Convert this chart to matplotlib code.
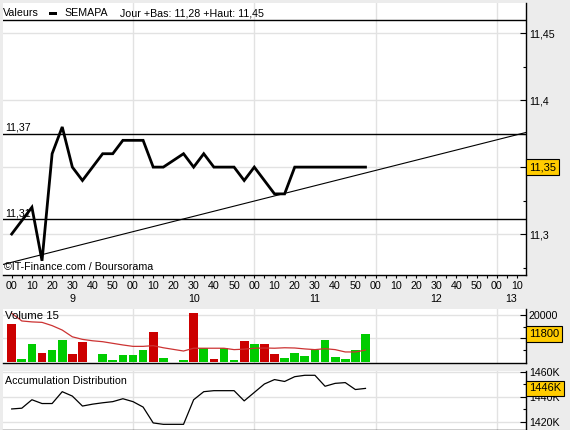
import matplotlib
matplotlib.use("Agg")
import matplotlib.pyplot as plt
from matplotlib.patches import Rectangle
from matplotlib.ticker import FixedLocator, FuncFormatter

plt.rcParams['font.family'] = ['Liberation Sans', 'DejaVu Sans']

# ---------------- data ----------------
times = ["09:00", "09:05", "09:10", "09:15", "09:20", "09:25", "09:30", "09:35", "09:40",
         "09:45", "09:50", "09:55", "10:00", "10:05", "10:10", "10:15", "10:20", "10:25",
         "10:30", "10:35", "10:40", "10:45", "10:50", "10:55", "11:00", "11:05", "11:10",
         "11:15", "11:20", "11:25", "11:30", "11:35", "11:40", "11:45", "11:50", "11:55"]
prices = [11.30, 11.31, 11.32, 11.28, 11.36, 11.38, 11.35, 11.34, 11.35,
          11.36, 11.36, 11.37, 11.37, 11.37, 11.35, 11.35, 11.355, 11.36,
          11.35, 11.36, 11.35, 11.35, 11.35, 11.34, 11.35, 11.34, 11.33,
          11.33, 11.35, 11.35, 11.35, 11.35, 11.35, 11.35, 11.35, 11.35]
volumes = [16100, 1100, 7500, 3600, 4900, 9400, 3200, 8500, 0,
           3200, 600, 2800, 2800, 4900, 12800, 1600, 0, 600,
           20800, 5800, 1100, 5800, 600, 8800, 7500, 7500, 3200,
           1500, 3600, 2400, 4900, 9400, 1900, 1100, 4900, 11800]
volume_up = [False, True, True, False, True, True, False, False, True,
             True, True, True, True, True, False, True, True, True,
             False, True, False, True, True, False, True, False, False,
             True, True, True, True, True, True, True, True, True]
volume_ma = [20700, 17400, 17000, 16800, 15400, 13500, 10600, 9500, 8900,
             8500, 7800, 7100, 6500, 6500, 6800, 5900, 5200, 4500,
             5700, 5700, 5700, 5700, 5100, 5300, 5700, 5800, 5700,
             5900, 5800, 5400, 5100, 5500, 5100, 4100, 4100, 4900]
acc_dist_k = [1430.3, 1430.9, 1437.6, 1434.6, 1434.6, 1444.0, 1440.5, 1432.6, 1434.1,
              1435.2, 1436.1, 1438.4, 1436.1, 1431.8, 1419.2, 1418.1, 1418.1, 1418.1,
              1437.6, 1444.0, 1444.8, 1444.8, 1444.8, 1436.7, 1443.4, 1450.1, 1453.6,
              1452.1, 1455.9, 1457.0, 1457.0, 1448.3, 1450.6, 1451.2, 1445.7, 1446.6]

levels = [11.46, 11.375, 11.311]
level_labels = ["", "11,37", "11,31"]
trend_times = ["09:00", "13:00"]
trend_values = [11.2789, 11.3704]

price_ticks = [11.30, 11.35, 11.40, 11.45]
price_minor = [11.275, 11.325, 11.375, 11.425]
volume_ticks = [10000, 20000]
volume_minor = [5000, 15000]
ad_ticks = [1420, 1440, 1460]
ad_minor = [1430, 1450]
hour_labels = ["9", "10", "11", "12", "13"]
hour_starts = ["09:00", "10:00", "11:00", "12:00", "13:00"]

legend_title = "Valeurs"
series_name = "SEMAPA"
day_info = "Jour +Bas: 11,28 +Haut: 11,45"
volume_title = "Volume 15"
ad_title = "Accumulation Distribution"
credit = "©IT-Finance.com / Boursorama"


def to_min(s):
    h, m = s.split(":")
    return (int(h) - 9) * 60 + int(m)


t = [to_min(s) for s in times]
hours = [to_min(s) for s in hour_starts]

# ---------------- layout ----------------
W, H = 570, 430
BG = "#ececec"
GRID = "#e2e2e2"
fig = plt.figure(figsize=(W / 100, H / 100), dpi=100, facecolor=BG)


def rect(l, tp, r, b):
    return [l / W, (H - b) / H, (r - l) / W, (b - tp) / H]


XMIN, XMAX = -4.3, 254.4
FS = 7.7

ax = fig.add_axes(rect(3, 3, 526, 275))
axv = fig.add_axes(rect(3, 308.5, 526, 363))
axa = fig.add_axes(rect(3, 370.5, 526, 429.5))

for a in (ax, axv, axa):
    a.set_facecolor("white")
    a.set_xlim(XMIN, XMAX)
    for s in ("left", "top"):
        a.spines[s].set_visible(False)
    for s in ("right", "bottom"):
        a.spines[s].set_color("black")
        a.spines[s].set_linewidth(1.0)
    a.yaxis.tick_right()
    a.tick_params(axis="y", which="major", direction="in", length=4, width=0.8,
                  pad=2, labelsize=FS, colors="black")
    a.tick_params(axis="y", which="minor", direction="in", length=2.5, width=0.8)
    for hh in hours[1:]:
        a.axvline(hh, color=GRID, lw=1.0, zorder=0)


def boxed_value(a, value, label):
    a.annotate(label, xy=(1, value), xycoords=a.get_yaxis_transform(),
               xytext=(2.2, 0), textcoords="offset points", ha="left", va="center",
               fontsize=FS + 0.3,
               bbox=dict(boxstyle="square,pad=0.25", fc="#ffcc00", ec="black", lw=0.8),
               annotation_clip=False, zorder=10)


# ---- main price panel ----
ax.set_ylim(11.2694, 11.4726)
ax.yaxis.set_major_locator(FixedLocator(price_ticks))
ax.yaxis.set_minor_locator(FixedLocator(price_minor))
last_price = prices[-1]
ax.yaxis.set_major_formatter(FuncFormatter(
    lambda v, p: "" if abs(v - last_price) < 1e-9 else ("%g" % round(v, 3)).replace(".", ",")))
for v in price_ticks:
    ax.axhline(v, color=GRID, lw=1.0, zorder=0)

ax.xaxis.set_major_locator(FixedLocator(list(range(0, 251, 10))))
ax.xaxis.set_minor_locator(FixedLocator(list(range(5, 251, 10))))
ax.xaxis.set_major_formatter(FuncFormatter(lambda v, p: "%02d" % (int(round(v)) % 60)))
ax.tick_params(axis="x", which="both", direction="out", length=2.5, width=0.8,
               pad=1.5, labelsize=FS)

for lv, lab in zip(levels, level_labels):
    ax.axhline(lv, color="black", lw=1.0, zorder=2)
    if lab:
        ax.annotate(lab, xy=(0, lv), xycoords=ax.get_yaxis_transform(),
                    xytext=(1.5, 0.8), textcoords="offset points",
                    ha="left", va="bottom", fontsize=FS)

ax.axline((to_min(trend_times[0]), trend_values[0]),
          (to_min(trend_times[1]), trend_values[1]), color="black", lw=0.8, zorder=2)
ax.plot(t, prices, color="black", lw=2.0, zorder=3, solid_joinstyle="miter")

ax.text(0.002, 0.028, credit, transform=ax.transAxes, ha="left", va="center",
        fontsize=FS, zorder=4)

boxed_value(ax, last_price, ("%.2f" % last_price).replace(".", ","))

# hour labels under the minute labels
for hh, lab in zip(hours, hour_labels):
    lo = max(hh, XMIN)
    hi = min(hh + 60, XMAX)
    ax.text((lo + hi) / 2, -0.09, lab, transform=ax.get_xaxis_transform(), ha="center",
            va="center", fontsize=FS, clip_on=False)

# legend row
fig.text(3 / W, 1 - 13 / H, legend_title, ha="left", va="center", fontsize=FS)
fig.patches.append(Rectangle((49.3 / W, 1 - 15 / H), 8 / W, 3.2 / H,
                             transform=fig.transFigure, fc="black", ec="none"))
fig.text(64 / W, 1 - 13 / H, series_name, ha="left", va="center", fontsize=FS)
fig.text(120 / W, 1 - 13 / H, day_info, ha="left", va="center", fontsize=FS)

# ---- volume panel ----
axv.set_ylim(-640, 22750)
axv.yaxis.set_major_locator(FixedLocator(volume_ticks))
axv.yaxis.set_minor_locator(FixedLocator(volume_minor))
axv.yaxis.set_major_formatter(FuncFormatter(
    lambda v, p: "" if abs(v - volumes[-1]) < 3000 else "%d" % v))
axv.set_xticks([])
for v in volume_ticks:
    axv.axhline(v, color=GRID, lw=1.0, zorder=0)
colors = ["#00cc00" if u else "#cc0000" for u in volume_up]
axv.bar(t, volumes, width=4.3, color=colors, zorder=2)
axv.plot(t, volume_ma, color="#cc3333", lw=0.9, zorder=3)
axv.text(0.003, 0.86, volume_title, transform=axv.transAxes, ha="left", va="center",
         fontsize=FS + 0.5, zorder=4)
boxed_value(axv, volumes[-1], "%d" % volumes[-1])

# ---- accumulation distribution panel ----
axa.set_ylim(1414.0, 1460.8)
axa.yaxis.set_major_locator(FixedLocator(ad_ticks))
axa.yaxis.set_minor_locator(FixedLocator(ad_minor))
axa.yaxis.set_major_formatter(FuncFormatter(lambda v, p: "%dK" % v))
axa.set_xticks([])
for v in ad_ticks:
    axa.axhline(v, color=GRID, lw=1.0, zorder=0)
axa.plot(t, acc_dist_k, color="black", lw=0.9, zorder=3)
axa.text(0.003, 0.83, ad_title, transform=axa.transAxes, ha="left", va="center",
         fontsize=FS, zorder=4)
boxed_value(axa, acc_dist_k[-1], "%dK" % int(acc_dist_k[-1]))

fig.savefig("out.png", dpi=100, facecolor=BG)
